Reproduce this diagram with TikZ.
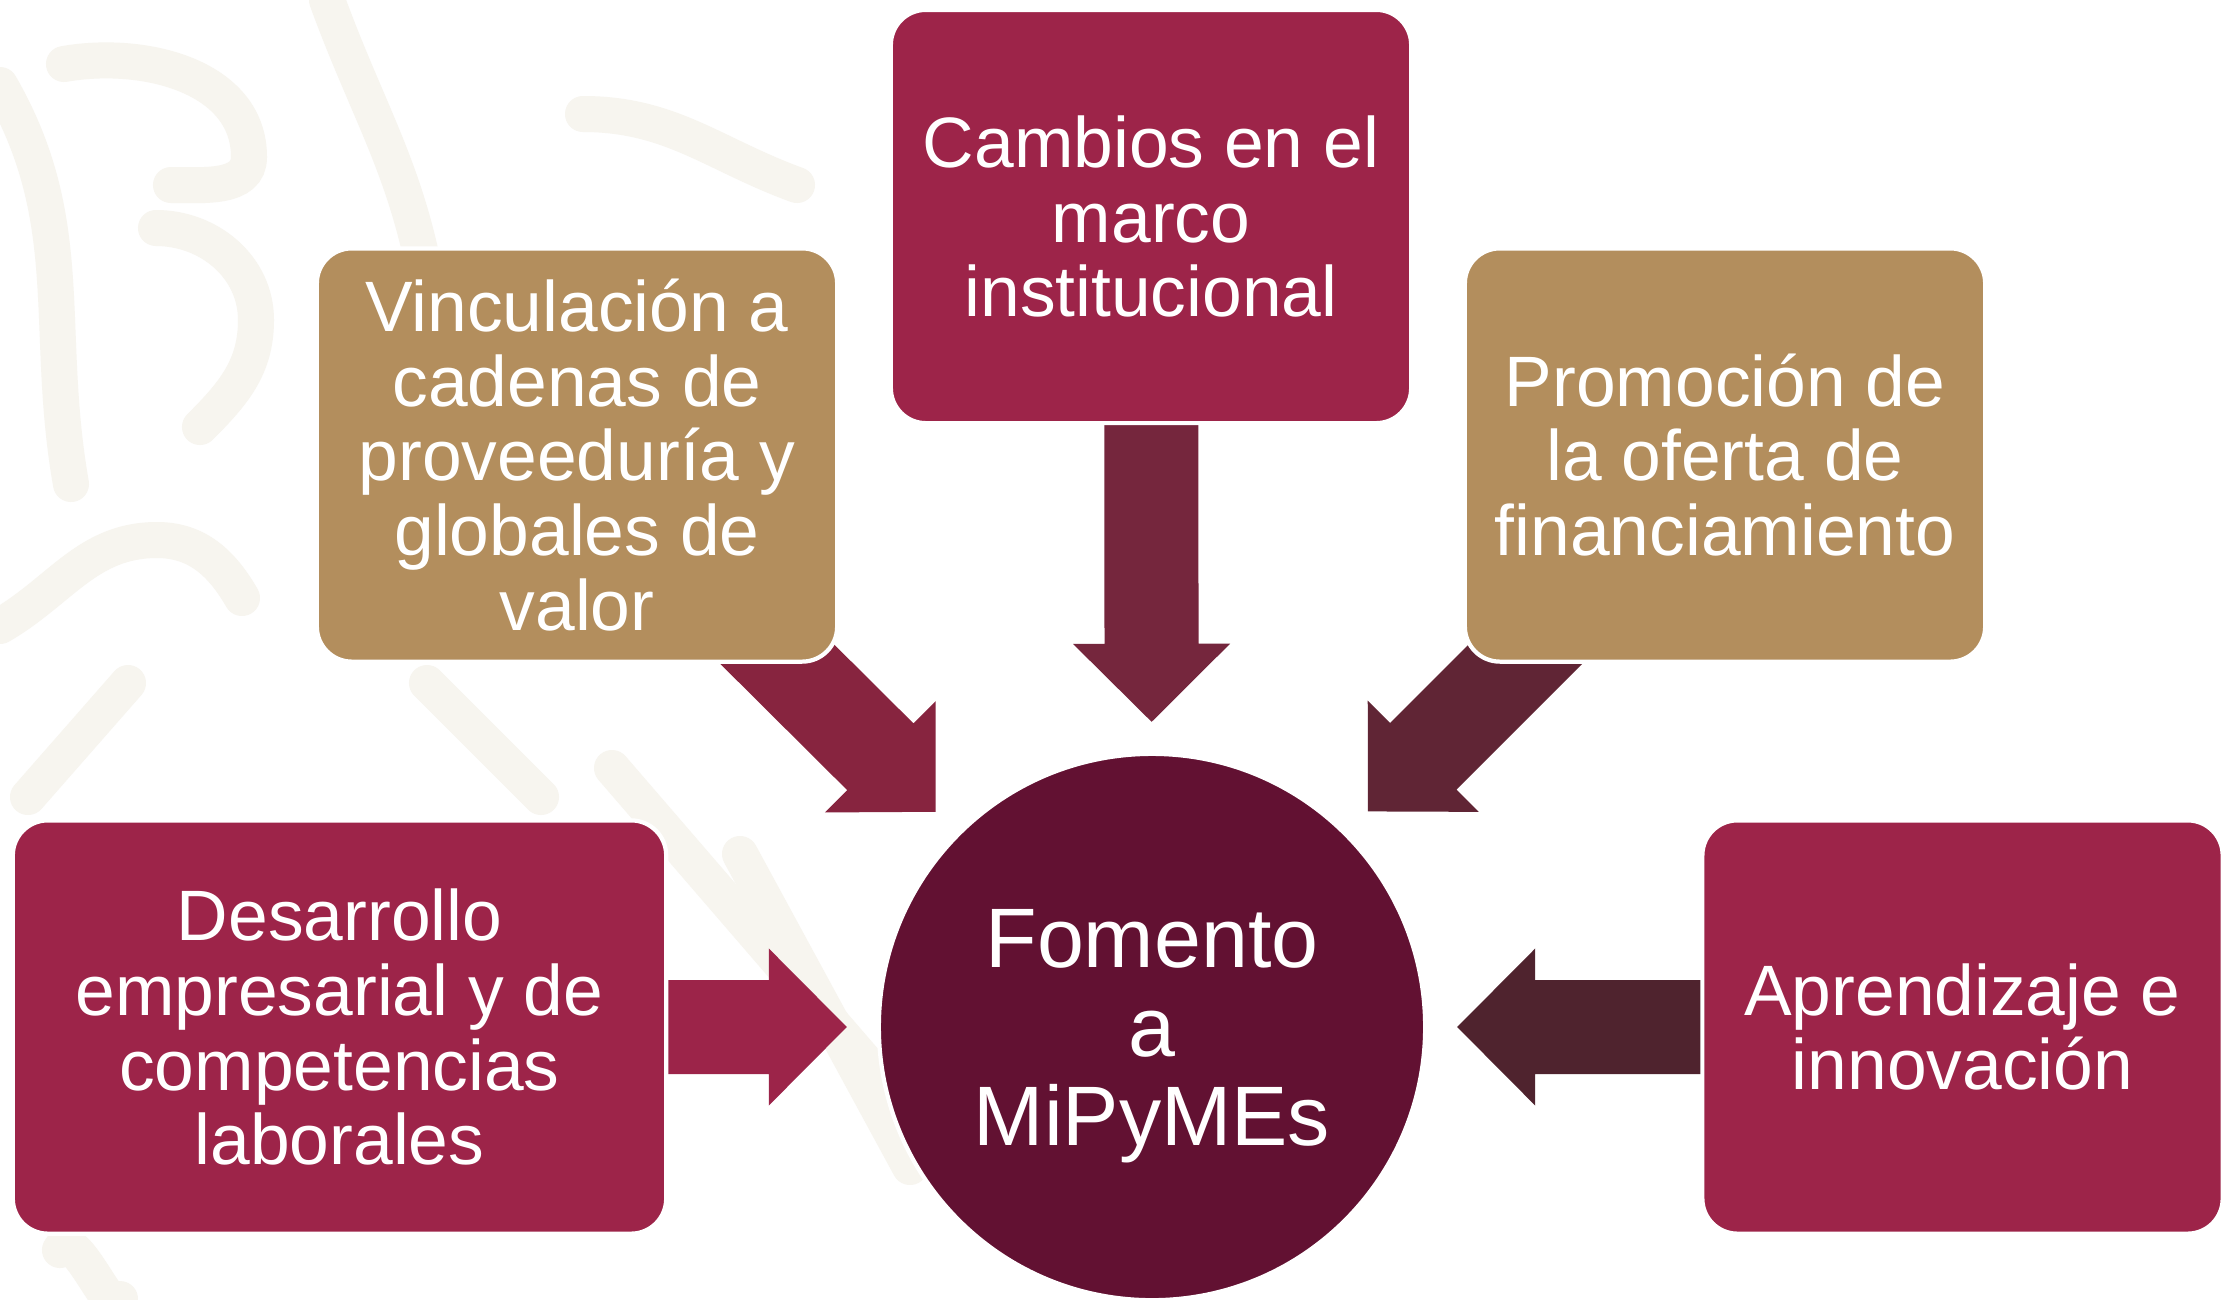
\documentclass[tikz,border=0pt]{standalone}
\usepackage{fontspec}
\setmainfont{Liberation Sans}
\usetikzlibrary{calc,backgrounds}
\definecolor{guinda}{HTML}{9D2449}
\definecolor{dorado}{HTML}{B38E5D}
\definecolor{vino}{HTML}{621132}
\definecolor{trama}{HTML}{F7F5EF}
\definecolor{flechaizq}{HTML}{9C2449}
\definecolor{flechadiagizq}{HTML}{87243F}
\definecolor{flechasup}{HTML}{75263D}
\definecolor{flechadiagder}{HTML}{602535}
\definecolor{flechader}{HTML}{4F232E}
\tikzset{
    caja/.style={rectangle, rounded corners=0.35cm, draw=white, line width=1.2pt,
      text=white, align=center, inner sep=0pt, minimum width=5.2cm, minimum height=4.13cm,
      font=\fontsize{20.3}{21.3}\selectfont},
    fondo/.style={trama, line width=0.36cm, line cap=round}
}
% block arrow from #1 towards #2, tip 3.05cm before #2
\newcommand{\flechabloque}[3]{%
    \coordinate (punta) at ($(#2)!3.05cm!(#1)$);
    \coordinate (base) at ($(#2)!3.83cm!(#1)$);
    \fill[#3] (punta) -- ($(base)!0.785cm!90:(punta)$) -- ($(base)!0.47cm!90:(punta)$)
      -- ($(#1)!0.47cm!90:(base)$) -- ($(#1)!0.47cm!-90:(base)$)
      -- ($(base)!0.47cm!-90:(punta)$) -- ($(base)!0.785cm!-90:(punta)$) -- cycle;
}

\begin{document}
\begin{tikzpicture}[x=0.01cm, y=-0.01cm]
    \useasboundingbox (0,0) rectangle (2231,1299);
    \node[caja, fill=guinda] (marco) at (1151,216.5) {Cambios en el\\marco\\institucional};
    \node[caja, fill=dorado] (cadenas) at (577,455) {Vinculación a\\cadenas de\\proveeduría y\\globales de\\valor};
    \node[caja, fill=dorado] (financiamiento) at (1725,455) {Promoción de\\la oferta de\\financiamiento};
    \node[caja, fill=guinda, minimum width=6.53cm] (desarrollo) at (339.5,1027) {Desarrollo\\empresarial y de\\competencias\\laborales};
    \node[caja, fill=guinda] (aprendizaje) at (1962.5,1027) {Aprendizaje e\\innovación};
    \node[circle, fill=vino, draw=white, line width=1.2pt, text=white, align=center,
      inner sep=0pt, minimum size=5.46cm, text depth=0pt, font=\fontsize{24}{25.3}\selectfont]
      (fomento) at (1152,1027) {Fomento\\a\\MiPyMEs};
    \begin{scope}[on background layer]
        \fill[white] (0,0) rectangle (2231,1299);
        \draw[fondo] (64,64) to[out=10,in=90] (249,157) to[out=-90,in=0] (171,185);
        \draw[fondo] (0,85) to[out=-60,in=100] (71,484);
        \draw[fondo] (156,228) to[out=0,in=90] (256,320) to[out=-90,in=45] (200,427);
        \draw[fondo] (327,0) to[out=-70,in=100] (427,285);
        \draw[fondo] (0,626) to[out=30,in=180] (157,540) to[out=0,in=120] (242,598);
        \draw[fondo] (28,797) -- (128,683);
        \draw[fondo] (612,768) -- (882,1081);
        \draw[fondo] (740,854) -- (910,1167);
        \draw[fondo] (427,683) -- (541,797);
        \draw[fondo] (583,114) to[out=0,in=160] (797,185);
        \draw[fondo] (60,1250) to[out=60,in=-100] (120,1299);
        \flechabloque{marco.center}{fomento.center}{flechasup}
        \flechabloque{cadenas.center}{fomento.center}{flechadiagizq}
        \flechabloque{financiamiento.center}{fomento.center}{flechadiagder}
        \flechabloque{desarrollo.center}{fomento.center}{flechaizq}
        \flechabloque{aprendizaje.center}{fomento.center}{flechader}
    \end{scope}
\end{tikzpicture}
\end{document}
